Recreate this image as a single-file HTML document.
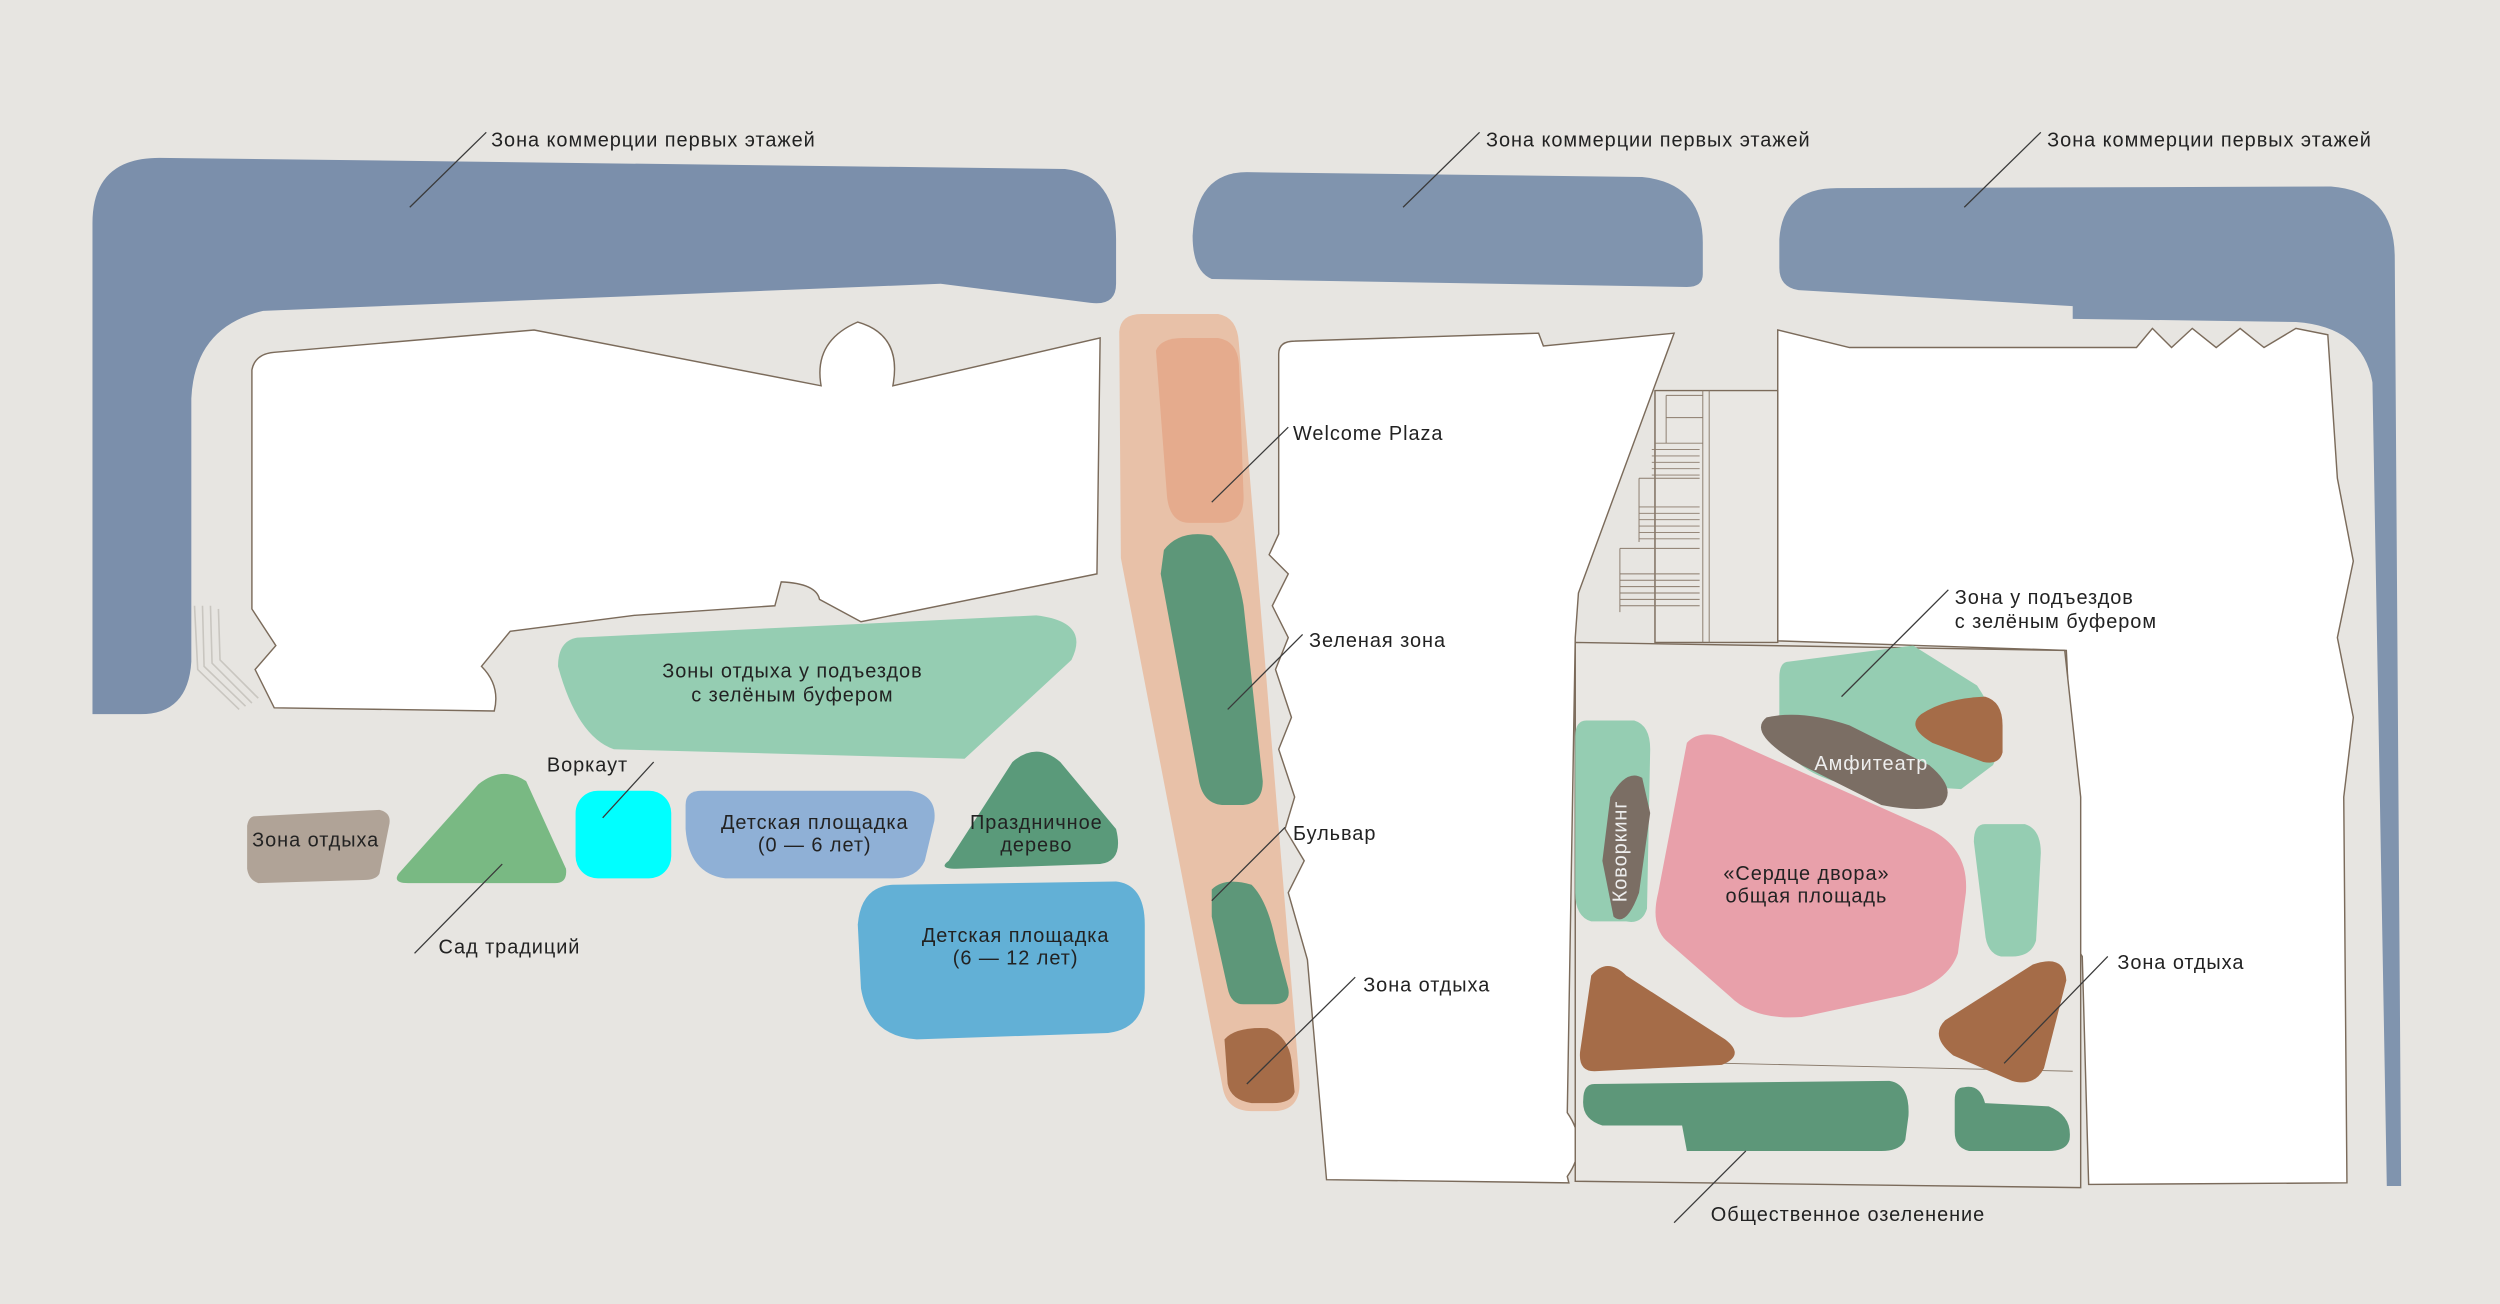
<!DOCTYPE html>
<html><head><meta charset="utf-8"><style>
html,body{margin:0;padding:0;background:#e7e5e1;}
svg{display:block}
text{font-family:"Liberation Sans","DejaVu Sans",sans-serif;font-size:12.5px;fill:#222;letter-spacing:0.6px}
</style></head><body>
<svg width="2500" height="1304" viewBox="0 0 1568 818" preserveAspectRatio="none" xmlns="http://www.w3.org/2000/svg">
<rect width="1568" height="818" fill="#e7e5e1"/>
<path d="M100,99 L668,106 Q700,110 700,150 L700,178 Q700,192 684,190 L590,178 L165,195 Q122,205 120,250 L120,415 Q118,448 88,448 L58,448 L58,140 Q58,99 100,99 Z" fill="#7b8fab"/>
<path d="M782,108 L1030,111 Q1068,115 1068,152 L1068,172 Q1068,180 1058,180 L760,175 Q748,170 748,148 Q750,108 782,108 Z" fill="#8094ae"/>
<path d="M1152,118 L1462,117 Q1502,120 1502,162 L1506,744 L1497,744 L1488,240 Q1482,205 1440,202 L1300,200 L1300,192 L1128,182 Q1116,180 1116,168 L1116,150 Q1118,118 1152,118 Z" fill="#8094ae"/>
<g stroke="#c9c6c0" stroke-width="1" fill="none"><path d="M122,380 L124,420 L150,445 M127,380 L128,418 L154,443 M132,380 L133,416 L158,441 M137,382 L138,414 L162,438"/></g>
<path d="M702,208 Q703,197 716,197 L764,197 Q776,199 777,215 L815,678 Q816,696 800,697 L785,697 Q770,697 767,683 L703,350 Z" fill="#e8c1a8"/>
<g fill="#fff" stroke="#7b6b5b" stroke-width="0.9">
<path d="M158,232 Q160,222 172,221 L335,207 L515,242 Q510,214 538,202 Q566,210 560,242 L690,212 L688,360 L540,390 L514,376 Q512,366 490,365 L486,380 L398,386 L320,396 L302,418 Q314,430 310,446 L172,444 L160,420 L173,405 L158,382 Z"/>
<path d="M802,222 Q802,214 812,214 L965,209 L968,217 L1050,209 L990,372 L988,400 L983,698 Q997,718 983,738 L984,742 L832,740 L820,602 L808,560 L818,540 L806,520 L812,500 L802,470 L810,450 L800,420 L808,400 L798,380 L808,360 L796,348 L802,335 Z"/>
<path d="M1115,207 L1160,218 L1340,218 L1350,206 L1362,218 L1375,206 L1390,218 L1405,206 L1420,218 L1440,206 L1460,210 L1466,300 L1476,352 L1466,400 L1476,450 L1470,500 L1472,742 L1310,743 L1306,600 L1290,575 L1280,500 L1300,490 L1296,408 L1115,402 Z"/>
<path d="M988,403 L1295,408 L1305,500 L1305,745 L988,741 Z" fill="#e9e7e3"/>
<path d="M1038,245 L1115,245 L1115,403 L1038,403 Z" fill="#e9e7e3"/>
</g>
<g stroke="#8a7b6c" stroke-width="0.6" fill="none">
<path d="M1045,248 L1068,248 M1045,262 L1068,262 M1038,278 L1068,278 M1036,282 L1066,282 M1036,286 L1066,286 M1036,290 L1066,290 M1036,294 L1066,294 M1036,298 L1066,298 M1028,300 L1066,300 M1028,318 L1066,318 M1028,322 L1066,322 M1028,326 L1066,326 M1028,330 L1066,330 M1028,334 L1066,334 M1028,338 L1066,338 M1016,344 L1066,344 M1016,360 L1066,360 M1016,364 L1066,364 M1016,368 L1066,368 M1016,372 L1066,372 M1016,376 L1066,376 M1016,380 L1066,380 M1068,245 L1068,403 M1072,245 L1072,403 M1045,248 L1045,278 M1028,300 L1028,340 M1016,344 L1016,384 M993,665 L1300,672"/>
</g>
<path d="M362,400 L650,386 Q684,390 672,414 L605,476 L385,470 Q362,462 350,418 Q350,402 362,400 Z" fill="#95cdb2"/>
<path d="M160,512 L238,508 Q246,510 244,518 L238,548 Q236,552 228,552 L162,554 Q156,552 155,545 L155,518 Q156,512 160,512 Z" fill="#b0a397"/>
<path d="M250,548 L300,492 Q315,480 330,490 L355,545 Q356,554 348,554 L256,554 Q246,554 250,548 Z" fill="#79b983"/>
<rect x="361" y="496" width="60" height="55" rx="14" fill="#00ffff"/>
<path d="M440,496 L570,496 Q588,498 586,515 L580,540 Q575,551 560,551 L455,551 Q432,548 430,520 L430,505 Q430,496 440,496 Z" fill="#8fb0d6"/>
<path d="M595,540 L635,478 Q650,465 665,478 L700,520 Q705,540 690,542 L600,545 Q588,545 595,540 Z" fill="#5a9a7a"/>
<path d="M560,555 L700,553 Q718,555 718,580 L718,620 Q718,645 695,648 L575,652 Q545,650 540,620 L538,580 Q540,556 560,555 Z" fill="#62b0d6"/>
<path d="M725,220 Q728,212 742,212 L764,212 Q776,214 777,228 L780,312 Q780,328 765,328 L746,328 Q734,328 732,312 Z" fill="#e5ab8d"/>
<path d="M730,345 Q740,332 760,336 Q775,350 780,380 L792,490 Q792,505 778,505 L768,505 Q755,505 752,490 L728,360 Z" fill="#5d9779"/>
<path d="M760,558 Q768,550 785,555 Q795,565 800,590 L808,620 Q810,630 798,630 L780,630 Q772,630 770,620 L760,575 Z" fill="#5d9779"/>
<path d="M768,652 Q775,644 795,645 Q808,650 810,665 L812,685 Q810,692 798,692 L785,692 Q772,690 770,680 Z" fill="#a56c48"/>
<path d="M1122,415 L1200,405 L1240,430 Q1260,460 1250,480 L1230,495 L1150,490 Q1118,480 1116,455 L1116,425 Q1116,415 1122,415 Z" fill="#95cdb2"/>
<path d="M1205,448 Q1220,438 1245,437 Q1256,440 1256,455 L1256,472 Q1254,480 1244,478 L1212,466 Q1195,456 1205,448 Z" fill="#a56c48"/>
<path d="M1108,450 Q1130,445 1160,455 L1210,480 Q1228,495 1218,505 Q1205,510 1180,505 L1130,480 Q1095,460 1108,450 Z" fill="#7b6e64"/>
<path d="M995,452 L1025,452 Q1035,455 1035,470 L1033,570 Q1030,580 1020,578 L998,578 Q988,575 988,560 L988,462 Q988,452 995,452 Z" fill="#95cdb2"/>
<path d="M1010,500 Q1020,482 1030,488 L1035,510 L1028,560 Q1020,582 1012,575 L1005,540 Z" fill="#7b6e64"/>
<path d="M1058,466 Q1065,458 1080,462 L1210,520 Q1235,532 1233,560 L1228,598 Q1222,616 1195,624 L1130,638 Q1100,640 1085,625 L1045,590 Q1035,580 1040,560 Z" fill="#e8a0aa"/>
<path d="M1245,517 L1270,517 Q1280,520 1280,535 L1277,590 Q1274,600 1262,600 L1255,600 Q1246,598 1245,585 L1238,528 Q1238,517 1245,517 Z" fill="#95cdb2"/>
<path d="M998,612 Q1008,600 1020,612 L1082,652 Q1095,662 1080,668 L1000,672 Q990,672 991,660 Z" fill="#a56c48"/>
<path d="M1220,640 L1275,605 Q1295,598 1296,615 L1282,670 Q1276,682 1262,678 L1225,662 Q1210,650 1220,640 Z" fill="#a56c48"/>
<path d="M1000,680 L1185,678 Q1198,680 1197,700 L1195,715 Q1192,722 1180,722 L1058,722 L1055,706 L1005,706 Q992,702 993,690 Q993,680 1000,680 Z" fill="#5d9779"/>
<path d="M1232,682 Q1242,680 1245,692 L1285,694 Q1300,700 1298,715 Q1296,722 1285,722 L1235,722 Q1226,720 1226,710 L1226,690 Q1226,682 1232,682 Z" fill="#5d9779"/>
<g stroke="#3a3a3a" stroke-width="0.8" fill="none">
<path d="M257,130 L305,83 M880,130 L928,83 M1232,130 L1280,83 M760,315 L808,268 M770,445 L817,398 M760,565 L806,519 M782,680 L850,613 M378,513 L410,478 M260,598 L315,542 M1155,437 L1222,370 M1257,667 L1322,600 M1050,767 L1095,722"/>
</g>
<text x="308" y="92">Зона коммерции первых этажей</text>
<text x="932" y="92">Зона коммерции первых этажей</text>
<text x="1284" y="92">Зона коммерции первых этажей</text>
<text x="811" y="276">Welcome Plaza</text>
<text x="821" y="406">Зеленая зона</text>
<text x="811" y="527">Бульвар</text>
<text x="855" y="622">Зона отдыха</text>
<text x="497" y="425" text-anchor="middle">Зоны отдыха у подъездов</text>
<text x="497" y="440" text-anchor="middle">с зелёным буфером</text>
<text x="343" y="484">Воркаут</text>
<text x="198" y="531" text-anchor="middle">Зона отдыха</text>
<text x="275" y="598">Сад традиций</text>
<text x="511" y="520" text-anchor="middle">Детская площадка</text>
<text x="511" y="534" text-anchor="middle">(0 — 6 лет)</text>
<text x="650" y="520" text-anchor="middle">Праздничное</text>
<text x="650" y="534" text-anchor="middle">дерево</text>
<text x="637" y="591" text-anchor="middle">Детская площадка</text>
<text x="637" y="605" text-anchor="middle">(6 — 12 лет)</text>
<text x="1226" y="379">Зона у подъездов</text>
<text x="1226" y="394">с зелёным буфером</text>
<text x="1138" y="483" style="fill:#eee">Амфитеатр</text>
<text x="1133" y="552" text-anchor="middle">«Сердце двора»</text>
<text x="1133" y="566" text-anchor="middle">общая площадь</text>
<text x="1020" y="566" transform="rotate(-90 1020 566)" style="fill:#eee">Коворкинг</text>
<text x="1328" y="608">Зона отдыха</text>
<text x="1073" y="766">Общественное озеленение</text>
</svg>
</body></html>
